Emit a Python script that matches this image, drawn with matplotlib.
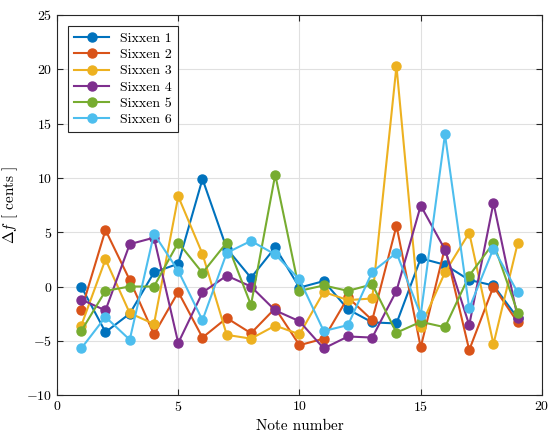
import matplotlib
matplotlib.use("Agg")
import matplotlib.pyplot as plt
import numpy as np

plt.rcParams['font.family'] = 'serif'
plt.rcParams['font.serif'] = ['cmr10']
plt.rcParams['mathtext.fontset'] = 'cm'
plt.rcParams['axes.formatter.use_mathtext'] = True

notes = list(range(1, 20))
labels = ["Sixxen 1", "Sixxen 2", "Sixxen 3", "Sixxen 4", "Sixxen 5", "Sixxen 6"]
s1 = [0.0, -4.2, -2.5, 1.3, 2.1, 9.9, 3.5, 0.8, 3.6, -0.1, 0.5, -2.1, -3.3, -3.4, 2.6, 2.0, 0.6, 0.1, -2.9]
s2 = [-2.2, 5.2, 0.6, -4.4, -0.5, -4.7, -2.9, -4.3, -2.0, -5.4, -4.8, -1.0, -3.1, 5.6, -5.6, 3.6, -5.85, 0.0, -3.3]
s3 = [-3.6, 2.5, -2.45, -3.45, 8.3, 3.0, -4.45, -4.8, -3.6, -4.4, -0.5, -1.25, -1.1, 20.3, -3.7, 1.3, 4.95, -5.3, 4.0]
s4 = [-1.2, -2.2, 3.9, 4.5, -5.2, -0.55, 1.0, 0.0, -2.2, -3.2, -5.7, -4.6, -4.7, -0.4, 7.45, 3.4, -3.55, 7.7, -2.9]
s5 = [-4.1, -0.4, 0.0, 0.0, 4.05, 1.25, 4.05, -1.7, 10.3, -0.4, 0.1, -0.4, 0.2, -4.25, -3.25, -3.75, 1.0, 4.0, -2.4]
s6 = [-5.7, -2.8, -4.9, 4.85, 1.45, -3.1, 3.1, 4.2, 2.95, 0.65, -4.1, -3.55, 1.35, 3.1, -2.6, 14.0, -2.0, 3.5, -0.55]
series = [s1, s2, s3, s4, s5, s6]
colors = ["#0072BD", "#D95319", "#EDB120", "#7E2F8E", "#77AC30", "#4DBEEE"]

fig = plt.figure(figsize=(5.48, 4.41), dpi=100)
ax = fig.add_axes([0.104, 0.104, 0.885, 0.862])
for s, c, l in zip(series, colors, labels):
    ax.plot(notes, s, '-o', color=c, lw=1.5, ms=6.5, label=l)

ax.set_xlim(0, 20)
ax.set_ylim(-10, 25)
ax.set_xticks(np.arange(0, 21, 5))
ax.set_yticks(np.arange(-10, 26, 5))
ax.grid(True, color='#e0e0e0', lw=0.8)
ax.set_axisbelow(True)
ax.tick_params(direction='in', top=True, right=True, labelsize=10, length=4, color='#262626')
for sp in ax.spines.values():
    sp.set_color('#262626')
    sp.set_linewidth(0.8)
ax.set_xlabel('Note number', fontsize=11)
ax.set_ylabel(r'$\Delta f$ [ cents ]', fontsize=11)
leg = ax.legend(loc='upper left', fontsize=10, fancybox=False, edgecolor='#262626',
                framealpha=1, handlelength=2.5, borderpad=0.45, labelspacing=0.25,
                borderaxespad=0.8)
leg.get_frame().set_linewidth(0.8)
fig.savefig('out.png', dpi=100)
